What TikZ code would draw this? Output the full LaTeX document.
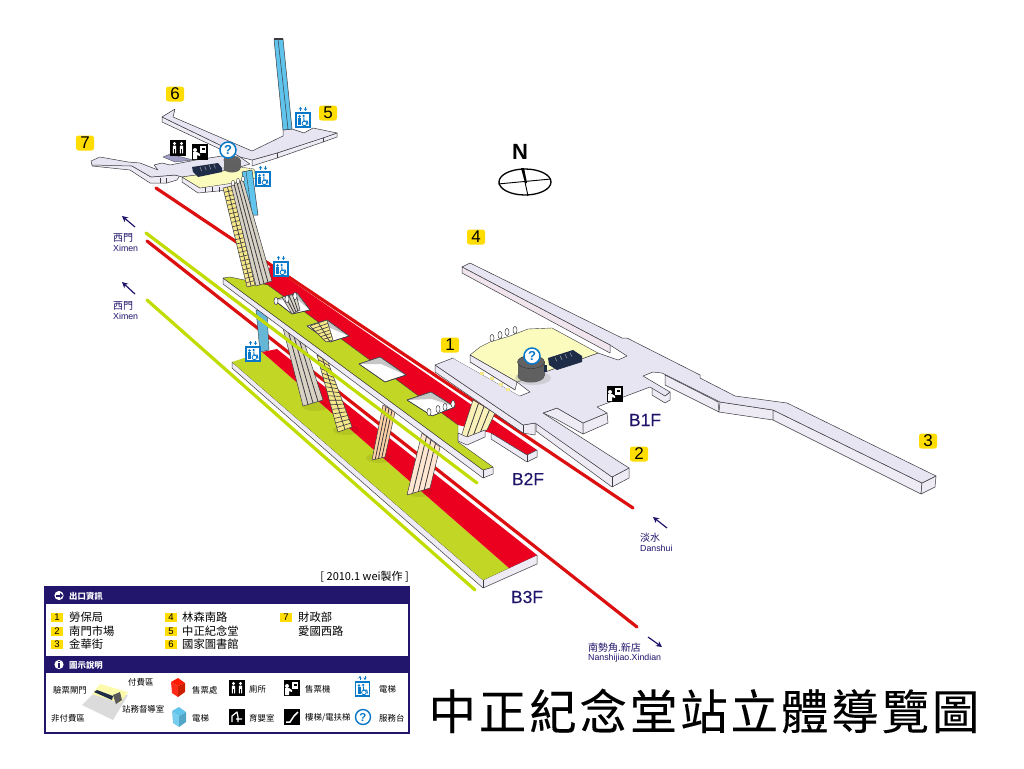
\documentclass[tikz,border=0pt]{standalone}
\usepackage{fontspec}
\setmainfont{Liberation Sans}
\newfontfamily\cjk{Noto Sans CJK TC}
\usetikzlibrary{calc,arrows.meta}
\definecolor{floorc}{HTML}{E8E5F2}
\definecolor{wallc}{HTML}{EEEBF5}
\definecolor{linec}{HTML}{3A3A40}
\definecolor{navy}{HTML}{1E146A}
\definecolor{barc}{HTML}{22166C}
\definecolor{redc}{HTML}{EC0020}
\definecolor{rline}{HTML}{DC1010}
\definecolor{gtop}{HTML}{C2D625}
\definecolor{gline}{HTML}{C0DC00}
\definecolor{paid}{HTML}{FBFBBE}
\definecolor{blu}{HTML}{0A78C8}
\definecolor{colb}{HTML}{60C4EC}
\definecolor{lab}{HTML}{FFDD00}
\definecolor{esc}{HTML}{D8D2C4}
\definecolor{stairc}{HTML}{F6E88A}
\definecolor{gatec}{HTML}{1F2C48}
\tikzset{
 floorp/.style={fill=floorc,draw=linec,line width=.5pt,line join=round},
 wallp/.style={fill=wallc,draw=linec,line width=.5pt,line join=round},
 rail/.style={line width=3.2pt,line cap=round},
 numlab/.style={fill=lab,rounded corners=2.5pt,minimum width=18pt,minimum height=15pt,inner sep=0pt,font=\fontsize{17}{17}\selectfont},
 keylab/.style={fill=lab,minimum width=12pt,minimum height=9pt,inner sep=0pt,font=\fontsize{9.5}{9.5}\selectfont},
 tx/.style={anchor=west,inner sep=0pt,font=\cjk\fontsize{11.3}{12}\selectfont},
 sm/.style={anchor=west,inner sep=0pt,font=\cjk\fontsize{8.4}{9}\selectfont},
 hd/.style={anchor=west,inner sep=0pt,text=white,font=\cjk\bfseries\fontsize{8.4}{9}\selectfont},
 dirz/.style={anchor=west,inner sep=0pt,text=navy,font=\cjk\fontsize{10}{10}\selectfont},
 dire/.style={anchor=west,inner sep=0pt,text=navy,font=\fontsize{8.8}{9}\selectfont},
 flr/.style={text=navy,inner sep=0pt,font=\fontsize{17.5}{18}\selectfont\addfontfeature{FakeBold=0.25}},
 dirarrow/.style={navy,line width=1.2pt,-{Stealth[length=6pt,width=6pt]}},
 qmark/.style={circle,fill=white,draw=blu,line width=1.5pt,minimum size=16pt,inner sep=0pt,text=blu,font=\bfseries\fontsize{13}{13}\selectfont}
}
\newcommand{\elev}[2]{\begin{scope}[shift={(#1,#2)}]
 \fill[white] (-7.5,-7.5) rectangle (7.5,7.5);
 \draw[blu,line width=1.5pt] (-7,-7) rectangle (7,7);
 \fill[blu] (-3.5,-3.6) circle (1.4pt);
 \fill[blu] (-5,-1.8) rectangle (-2,5);
 \fill[blu] (.6,-4) circle (1.3pt);
 \draw[blu,line width=1pt] (.8,-2.5)--(1,1)--(4.2,1)--(5,4.5);
 \draw[blu,line width=.8pt] (1.4,3.4) circle (2.3pt);
 \draw[blu,line width=.9pt,-{Stealth[length=2.5pt,width=3.4pt]}] (-2.5,-9)--(-2.5,-13);
 \draw[blu,line width=.9pt,-{Stealth[length=2.5pt,width=3.4pt]}] (2.5,-13)--(2.5,-9);
\end{scope}}
\newcommand{\tmach}[2]{\begin{scope}[shift={(#1,#2)}]
 \fill[black] (-8,-8) rectangle (8,8);
 \fill[white] (0,-6) rectangle (6,1);
 \fill[black] (2,-4.5) rectangle (4.5,-2);
 \fill[white] (-5,-2) circle (2pt);
 \fill[white] (-7,0) -- (-3,0) -- (0,2) -- (0,4) -- (-3,3) -- (-3,7) -- (-7,7) -- cycle;
\end{scope}}
\newcommand{\wcicon}[2]{\begin{scope}[shift={(#1,#2)}]
 \fill[black] (-8,-8) rectangle (8,8);
 \fill[white] (-3.5,-4.5) circle (1.6pt);
 \fill[white] (3.5,-4.5) circle (1.6pt);
 \fill[white,rounded corners=.8pt] (-5.2,-2.5) rectangle (-1.8,5.5);
 \fill[white,rounded corners=.8pt] (1.8,-2.5) rectangle (5.2,5.5);
 \draw[black,line width=.4pt] (-3.5,1)--(-3.5,5.5) (3.5,1)--(3.5,5.5);
\end{scope}}
\newcommand{\stairrun}[5]{\fill[stairc,draw=linec,line width=.5pt,line join=round] (#1)--(#2)--(#3)--(#4)--cycle;
 \foreach \k in {1,...,#5}{\pgfmathsetmacro{\ttq}{\k/(#5+1)}
  \draw[linec,line width=.6pt] ($(#1)!\ttq!(#4)$)--($(#2)!\ttq!(#3)$);}
 \draw[linec,line width=.7pt] ($(#1)!.5!(#2)$)--($(#4)!.5!(#3)$);}
\newcommand{\escrun}[5]{\fill[#5,draw=linec,line width=.5pt,line join=round] (#1)--(#2)--(#3)--(#4)--cycle;
 \foreach \k in {.25,.5,.75}{\draw[linec,line width=.8pt] ($(#1)!\k!(#2)$)--($(#4)!\k!(#3)$);}}
\newcommand{\holep}[4]{\fill[white,draw=linec,line width=.5pt,line join=round] (#1)--(#2)--(#3)--(#4)--cycle;
 \fill[gray!45] (#1)--(#2)--(#3)--($(#2)+(1,7)$)--cycle;
 \draw[linec,line width=.5pt,line join=round] (#1)--(#2)--(#3)--(#4)--cycle;}
\newcommand{\bump}[2]{\draw[linec,fill=white,line width=.5pt] (#1,#2) ellipse [x radius=2pt,y radius=3.6pt];}
\begin{document}
\begin{tikzpicture}[x=1pt,y=-1pt]
\useasboundingbox (0,0) rectangle (1024,768);
\fill[white] (0,0) rectangle (1024,768);

% ---------- rails
\draw[rail,gline] (147,300)--(475,590);
% B3F platform
\fill[wallc,draw=linec,line width=.5pt,line join=round] (232,362)--(232,368)--(483,588)--(537,564)--(537,555)--(483,580)--cycle;
\draw[linec,line width=.5pt] (483,580)--(483,588);
\fill[gtop] (232,362)--(262,352)--(509,568)--(483,580)--cycle;
\fill[redc] (262,352)--(277,349)--(537,555)--(509,568)--cycle;
\draw[rail,rline] (147,241)--(637,627);
% soft shadows at column feet
\foreach \x/\y in {315/406,346/430,379/458,420/492}{\fill[black,opacity=.07] (\x,\y) ellipse [x radius=13pt,y radius=5pt];}

% lower elevator shaft
\fill[colb!80!gray,draw=linec,line width=.4pt] (256,310)--(267,313)--(269,350)--(260,352)--cycle;

% columns between B2F and B3F
\escrun{283,328}{305,345}{323,400}{303,406}{esc}
\stairrun{317,355}{328,362}{352,427}{338,432}{16}
\escrun{383,405}{395,412}{385,457}{372,460}{orange!35!white}
\escrun{422,433}{440,447}{430,488}{407,495}{red!10!orange!18!white}

% B2F red rail & strip
\draw[rail,rline] (156,188)--(633,508);
\fill[redc] (270,266)--(537,450)--(527,455)--(491,433)--(458,425)--(264,286)--cycle;
\fill[wallc,draw=linec,line width=.5pt,line join=round] (491,433)--(527,455)--(537,450)--(537,457)--(527,462)--(491,439)--cycle;
\draw[linec,line width=.5pt] (527,455)--(527,462);
% B2F green platform
\fill[wallc,draw=linec,line width=.5pt,line join=round] (223,278)--(223,284)--(483,478)--(493,474)--(493,467)--(483,470)--cycle;
\fill[gtop,draw=linec,line width=.4pt,line join=round] (223,278)--(230,277)--(268,285)--(458,425)--(458,442)--(493,467)--(483,470)--cycle;
\draw[linec,line width=.5pt] (483,470)--(483,478);
% holes
\holep{274,300}{297,293}{310,310}{292,314}
\escrun{282,297}{296,294}{300,310}{292,314}{esc}
\foreach \x/\y in {276/301,287/299,295/296}{\bump{\x}{\y}}
\holep{307,326}{327,320}{349,336}{330,342}
\stairrun{310,326}{327,320}{333,340}{326,342}{5}
\holep{359,364}{380,357}{406,375}{385,382}
\holep{407,400}{431,392}{455,407}{432,416}
\foreach \x/\y in {429/412,438/409,445/407,453/404}{\bump{\x}{\y}}
\draw[rail,gline] (146,233)--(477,483);

% ---------- B1F (right)
\escrun{473,400}{495,413}{487,430}{460,440}{stairc!60!white}
\fill[wallc,draw=linec,line width=.5pt,line join=round] (458,433)--(467,437)--(485,430)--(485,437)--(467,445)--(458,441)--cycle;
% walls of exit strips
\fill[wallc,draw=linec,line width=.5pt,line join=round] (435,365)--(435,372)--(523,433)--(535,435)--(535,423)--(523,425)--cycle;
\draw[linec,line width=.5pt] (523,425)--(523,433);
\fill[wallc,draw=linec,line width=.5pt,line join=round] (536,423)--(536,431)--(612,487)--(629,478)--(629,468)--(612,477)--cycle;
\draw[linec,line width=.5pt] (612,477)--(612,487);
\fill[wallc,draw=linec,line width=.5pt,line join=round] (543,413)--(557,408)--(583,423)--(583,434)--(556,419)--cycle;
\fill[wallc,draw=linec,line width=.5pt,line join=round] (583,423)--(607,413)--(608,423)--(583,434)--cycle;
\fill[wallc,draw=linec,line width=.5pt,line join=round] (652,387)--(665,396)--(670,392)--(670,400)--(665,403)--(652,395)--cycle;
\fill[wallc,draw=linec,line width=.5pt,line join=round] (665,375)--(718,402)--(719,412)--(665,385)--cycle;
\fill[wallc,draw=linec,line width=.5pt,line join=round] (720,402)--(773,410)--(773,420)--(719,412)--cycle;
\fill[wallc,draw=linec,line width=.5pt,line join=round] (773,410)--(922,483)--(921,494)--(773,420)--cycle;
\fill[wallc,draw=linec,line width=.5pt,line join=round] (922,483)--(936,476)--(935,487)--(921,494)--cycle;
% floor
\filldraw[floorp] (462,267)--(470,263)--(622,338)--(627,338)--(700,375)--(700,378)--(735,396)--(787,403)--(936,476)--(922,483)--(773,410)--(720,402)--(662,373)--(653,372)--(643,376)--(670,392)--(665,396)--(650,387)--(597,407)--(607,413)--(583,423)--(557,408)--(543,413)--(629,468)--(612,477)--(535,423)--(523,425)--(435,365)--(453,358)--(520,396)--(530,392)--(517,382)--(598,353)--(618,360)--(627,356)--(610,345)--cycle;
% exit 4 wall
\fill[wallc!85!pink,draw=linec,line width=.5pt,line join=round] (462,267)--(462,273)--(610,353)--(610,345)--cycle;
% paid area
\foreach \x/\y in {492/338,500/335,507/332,515/330}{\bump{\x}{\y}}
\fill[paid,draw=linec,line width=.4pt,line join=round] (470,355)--(480,347)--(490,342)--(510,336)--(528,329)--(552,328)--(598,353)--(517,382)--cycle;
\fill[wallc,draw=linec,line width=.5pt,line join=round] (470,355)--(470,362)--(515,390)--(517,382)--cycle;
% slot
\fill[white] (470,362)--(515,390)--(520,396)--(453,358)--cycle;
\draw[linec,line width=.5pt] (470,362)--(515,390);
\foreach \x/\y in {480/372,490/377,499/383,506/388}{\fill[stairc] (\x,\y) rectangle ++(4,3);}
% drum
\fill[black!30,opacity=.45] (533,378) ellipse [x radius=18pt,y radius=7pt];
\fill[gray!75!black] (517.5,362) rectangle (544.5,376);
\fill[gray!75!black] (531,376) ellipse [x radius=13.5pt,y radius=6.5pt];
\fill[gray!55!black!85,draw=gray!40!black,line width=.4pt] (531,362) ellipse [x radius=13.5pt,y radius=6.5pt];
\node[qmark] (q1) at (532,356) {?};
% gates
\fill[gatec] (548,358)--(573,350)--(582,356)--(582,362)--(557,370)--(549,365)--cycle;
\foreach \i in {1,...,4}{\draw[gray!70,line width=.5pt] ($(552,363)+(\i*5,-\i*1.6)$)--++(-2,-4);}
\fill[gatec] (544,365) rectangle (547,372);
\tmach{615}{394}

% ---------- upper concourse
\fill[wallc,draw=linec,line width=.5pt,line join=round] (92,161)--(92,166)--(130,170)--(150,183)--(167,183)--(177,180)--(180,175)--(175,175)--(151,177)--(132,166)--cycle;
\foreach \x in {160,166}{\draw[linec,line width=.4pt] (\x,178)--(\x,183);}
\fill[wallc,draw=linec,line width=.5pt,line join=round] (162,117)--(162,122)--(222,150)--(222,146)--cycle;
\fill[wallc,draw=linec,line width=.5pt,line join=round] (252,160)--(252,166)--(277,158)--(323,142)--(337,137)--(337,133)--(277,153)--cycle;
\draw[linec,line width=.4pt] (277,153)--(277,158) (323,137)--(323,142);
\filldraw[floorp] (162,117)--(175,109)--(173,117)--(252,151)--(283,136)--(283,130)--(292,129)--(304,133)--(313,128)--(337,133)--(323,138)--(277,153)--(252,160)--(240,157)--(222,146)--cycle;
% central + arm 7
\filldraw[floorp] (91,161)--(100,157)--(128,162)--(140,163)--(158,170)--(154,165)--(162,163)--(170,165)--(196,160)--(222,156)--(240,157)--(250,164)--(240,167)--(218,172)--(182,177)--(175,175)--(151,177)--(132,166)--(92,165)--cycle;
\fill[blue!25!gray!60,draw=linec,line width=.3pt] (163,157)--(170,154)--(193,160)--(175,162)--cycle;
% yellow area and wall
\fill[wallc,draw=linec,line width=.5pt,line join=round] (182,177)--(182,182)--(198,193)--(228,190)--(240,184)--(227,182)--(200,188)--cycle;
\foreach \x in {205,212,219}{\draw[linec,line width=.4pt] (\x,187)--(\x,192);}
\fill[paid,draw=linec,line width=.35pt,line join=round] (182,177)--(218,172)--(240,167)--(254,169)--(256,178)--(227,184)--(200,188)--cycle;
% gates / drum
\fill[gatec] (192,167)--(218,163)--(222,168)--(222,172)--(198,177)--(193,172)--cycle;
\foreach \i in {1,...,4}{\draw[gray!70,line width=.5pt] ($(197,172)+(\i*4.6,-\i*.9)$)--++(-1.5,-4);}
\fill[gray!75!black] (223.5,160) rectangle (240.5,168);
\fill[gray!75!black] (232,168) ellipse [x radius=8.5pt,y radius=4.5pt];
\fill[gray!55!black!85] (232,160) ellipse [x radius=8.5pt,y radius=4pt];
\node[qmark] (q2) at (228,150) {?};
\wcicon{178}{148}
\tmach{200}{152}
% upper elevator to 5
\fill[colb,draw=linec,line width=.5pt,line join=round] (274,39)--(283,39)--(292,129)--(283,130)--cycle;
\draw[linec,line width=.5pt] (278,39)--(288,129);
\fill[linec] (274,38)--(283,38)--(283,40)--(274,40)--cycle;
\elev{303}{120}
% elevator down
\fill[colb,draw=linec,line width=.5pt,line join=round] (242,172)--(252,170)--(258,215)--(249,215)--cycle;
\draw[linec,line width=.4pt] (246,171)--(252,215);
% main stairs
\stairrun{223,188}{232,186}{255,285}{247,287}{22}
\escrun{231,185}{243,180}{272,281}{256,286}{esc}
\foreach \x/\y in {233/183,238/181,243/179}{\draw[linec,fill=white,line width=.4pt] (\x,\y) ellipse [x radius=1.6pt,y radius=2.6pt];}
\elev{263}{179}
\elev{281}{269}
\elev{253}{354}

% compass
\node[inner sep=0pt,font=\bfseries\fontsize{22}{22}\selectfont] (north) at (520,152) {N};
\draw[black,line width=1.3pt] (525,182) ellipse [x radius=26pt,y radius=13pt];
\draw[black,line width=.9pt] (498,184)--(551,179);
\draw[black,line width=.9pt] (525,182)--(528,196);
\fill[black] (521,168)--(524,168)--(527,183)--(525,183)--cycle;

% labels
\node[numlab] (e1) at (450,345) {1};
\node[numlab] (e2) at (639,454) {2};
\node[numlab] (e3) at (928,441) {3};
\node[numlab] (e4) at (476,237) {4};
\node[numlab] (e5) at (328,113) {5};
\node[numlab] (e6) at (175,94) {6};
\node[numlab] (e7) at (85,143) {7};
\node[flr] (b1) at (645,420) {B1F};
\node[flr] (b2) at (528,479) {B2F};
\node[flr] (b3) at (527,597) {B3F};

% direction labels
\coordinate (xa1) at (135,227); \coordinate (xa2) at (122,216);
\draw[dirarrow] (xa1)--(xa2);
\node[dirz] (x1a) at (113,238) {西門};
\node[dire] (x1b) at (113,248) {Ximen};
\coordinate (xb1) at (135,294); \coordinate (xb2) at (122,282);
\draw[dirarrow] (xb1)--(xb2);
\node[dirz] (x2a) at (113,306) {西門};
\node[dire] (x2b) at (113,316) {Ximen};
\coordinate (da1) at (667,528); \coordinate (da2) at (653,517);
\draw[dirarrow] (da1)--(da2);
\node[dirz] (d1) at (640,538) {淡水};
\node[dire] (d2) at (640,548) {Danshui};
\coordinate (na1) at (648,637); \coordinate (na2) at (662,647);
\draw[dirarrow] (na1)--(na2);
\node[dirz] (n1) at (588,648) {南勢角.新店};
\node[dire] (n2) at (588,658) {Nanshijiao.Xindian};

% legend
\node[anchor=east,inner sep=0pt,font=\cjk\fontsize{11}{11}\selectfont] (credit) at (409,577) {[ 2010.1 wei製作 ]};
\fill[white] (45,587) rectangle (409,733);
\fill[barc] (45,587) rectangle (409,604);
\fill[barc] (45,656) rectangle (409,673);
\draw[barc,line width=1.2pt] (45,587) rectangle (409,733);
\fill[white] (59,595.5) circle (4.6pt);
\fill[barc] (55.5,594.5) rectangle (60,596.5);
\fill[barc] (60,592.8)--(63,595.5)--(60,598.2)--cycle;
\node[hd] (h1) at (69,596) {出口資訊};
\fill[white] (59,664.5) circle (4.6pt);
\fill[barc] (58.2,663) rectangle (59.8,667.5);
\fill[barc] (58.2,660.8) rectangle (59.8,662.2);
\node[hd] (h2) at (69,665) {圖示說明};
\node[keylab] (k1) at (57,617) {1};
\node[keylab] (k2) at (57,631) {2};
\node[keylab] (k3) at (57,644) {3};
\node[keylab] (k4) at (171,617) {4};
\node[keylab] (k5) at (171,631) {5};
\node[keylab] (k6) at (171,644) {6};
\node[keylab] (k7) at (286,617) {7};
\node[tx] (t1) at (69,617) {勞保局};
\node[tx] (t2) at (69,631) {南門市場};
\node[tx] (t3) at (69,644) {金華街};
\node[tx] (t4) at (182,617) {林森南路};
\node[tx] (t5) at (182,631) {中正紀念堂};
\node[tx] (t6) at (182,644) {國家圖書館};
\node[tx] (t7) at (298,617) {財政部};
\node[tx] (t8) at (298,631) {愛國西路};
% mini diagram
\fill[gray!28] (82,705)--(95,692)--(128,695)--(113,720)--cycle;
\fill[paid!90!yellow] (100,684)--(128,692)--(120,703)--(92,694)--cycle;
\fill[gatec] (94,692)--(97,690)--(113,696)--(112,700)--cycle;
\fill[gray!70!black] (113,695)--(120,692)--(122,700)--(116,704)--cycle;
\node[sm] (s1) at (53,690) {驗票閘門};
\node[sm] (s2) at (128,682) {付費區};
\node[sm] (s3) at (51,718) {非付費區};
\node[sm] (s4) at (122,709) {站務督導室};
% boxes
\fill[red!80!orange] (171,682)--(178,678)--(185,683)--(178,686)--cycle;
\fill[red!85!orange!90] (171,682)--(178,686)--(178,697)--(172,693)--cycle;
\fill[red!70!orange!80!black] (178,686)--(185,683)--(185,692)--(178,697)--cycle;
\fill[colb] (172,711)--(179,707)--(186,712)--(179,716)--cycle;
\fill[colb!85!white] (172,711)--(179,716)--(179,727)--(173,723)--cycle;
\fill[colb!85!black] (179,716)--(186,712)--(186,722)--(179,727)--cycle;
\node[sm] (s5) at (192,690) {售票處};
\node[sm] (s6) at (192,718) {電梯};
\wcicon{237}{688}
\begin{scope}[shift={(237,717)}]
 \fill[black] (-8,-8) rectangle (8,8);
 \draw[white,line width=1.2pt,line join=round] (-5,5)--(-5,-1)--(0,-5)--(1,0)--(1,5) (-1,2)--(5,2);
\end{scope}
\node[sm] (s7) at (249,689) {廁所};
\node[sm] (s8) at (249,718) {育嬰室};
\tmach{292}{688}
\begin{scope}[shift={(292,717)}]
 \fill[black] (-8,-8) rectangle (8,8);
 \draw[white,line width=1.5pt] (-6,5)--(-2,5)--(2,-1)--(6,-5);
\end{scope}
\node[sm] (s9) at (305,689) {售票機};
\node[sm] (s10) at (305,718) {樓梯/電扶梯};
\elev{362.5}{689}
\node[circle,draw=blu,line width=1.4pt,minimum size=15pt,inner sep=0pt,text=blu,font=\bfseries\fontsize{11.5}{11.5}\selectfont] (qleg) at (363,717) {?};
\node[sm] (s11) at (379,689) {電梯};
\node[sm] (s12) at (379,718) {服務台};

% title
\node[inner sep=0pt,font=\cjk\fontsize{47.5}{47.5}\selectfont\addfontfeature{LetterSpace=6,FakeBold=0.2}] (title) at (704,711) {中正紀念堂站立體導覽圖};
\end{tikzpicture}
\end{document}
